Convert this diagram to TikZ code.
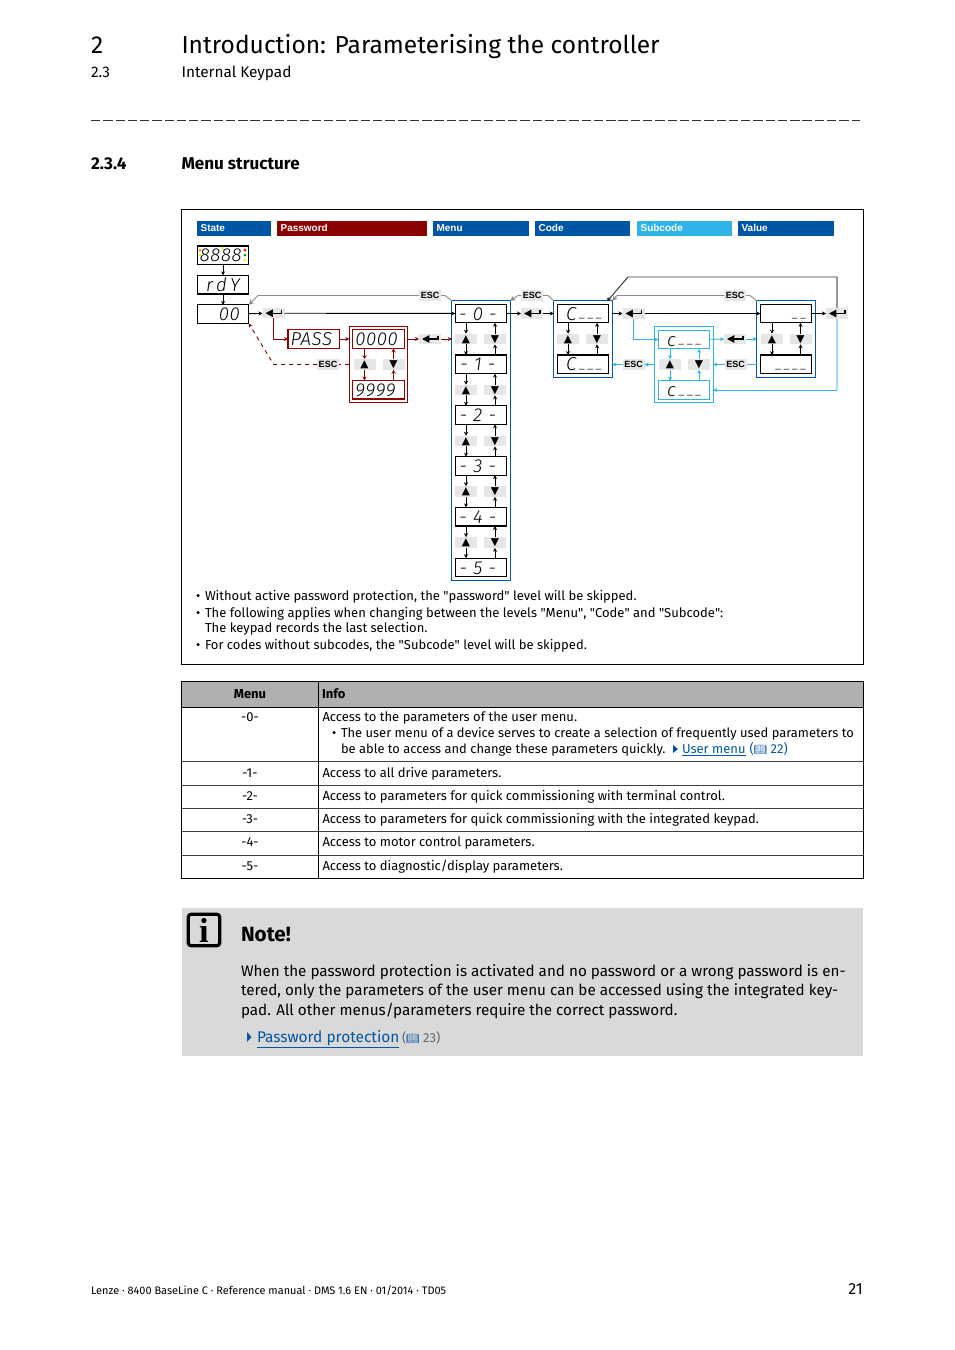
\documentclass[tikz,border=0pt]{standalone}
\usepackage{fontspec}
\usepackage{xcolor}
\setmainfont{Fira Sans}
\newfontfamily\barfont{Liberation Sans}
\newfontfamily\lcdfont{Fira Sans Light}[LetterSpace=3]
\newfontfamily\symfont{DejaVu Sans}
\newfontfamily\bookfont{Noto Emoji}
\newfontfamily\iconfont{Liberation Serif}
\usetikzlibrary{arrows.meta,positioning,fit,calc}
\definecolor{lenzeblue}{HTML}{0056A4}
\definecolor{lenzered}{HTML}{8B0000}
\definecolor{lenzecyan}{HTML}{30B4E8}
\definecolor{keygray}{HTML}{E6E6E6}
\definecolor{linkblue}{HTML}{0056A4}
\newcommand{\lcdseg}{\raisebox{1.8pt}{\fontsize{9}{9}\selectfont\_}\hspace{1.6pt}}

\begin{document}
\begin{tikzpicture}[x=0.75pt,y=-0.75pt,
  bar/.style={anchor=west, inner xsep=2.5pt, inner ysep=0pt, minimum height=11.25pt, text height=6pt, text depth=1pt, align=left, text=white, font=\barfont\fontsize{7.5}{9}\selectfont\bfseries},
  lcd/.style={draw=black, line width=0.9pt, fill=white, outer sep=0pt, inner xsep=2pt, inner ysep=0pt, minimum width=38.6pt, minimum height=13.9pt, text width=34.6pt, text height=10pt, text depth=0pt, font=\lcdfont\fontsize{14}{14}\selectfont\itshape},
  frame/.style={draw=#1, line width=0.8pt, inner sep=2.6pt, outer sep=0pt},
  key/.style={fill=keygray, outer sep=0pt, inner sep=0pt, minimum width=16.5pt, minimum height=7.9pt, text height=6.2pt, text depth=1pt, font=\symfont\fontsize{8}{8}\selectfont},
  enterkey/.style={fill=keygray, outer sep=0pt, inner sep=0pt, minimum width=16.5pt, minimum height=7.9pt, path picture={
    \draw[line width=1pt, -{Triangle[length=5.5pt,width=5.5pt]}] ($(path picture bounding box.center)+(8,-3.5)$) -- ($(path picture bounding box.center)+(8,0)$) -- ($(path picture bounding box.center)+(-8,0)$);}},
  esc/.style={fill=keygray, outer sep=0pt, inner sep=0pt, minimum width=16.5pt, minimum height=7.9pt, font=\barfont\fontsize{6.75}{8}\selectfont\bfseries},
  arrow/.style={-{Stealth[length=3pt,width=3pt]}, line width=0.7pt, color=black},
  redarrow/.style={-{Stealth[length=3pt,width=3pt]}, line width=0.7pt, color=lenzered},
  cyanarrow/.style={-{Stealth[length=3pt,width=3pt]}, line width=0.7pt, color=lenzecyan},
  escarrow/.style={-{Stealth[length=4pt,width=4pt]}, line width=0.7pt, color=black!45},
  page/.style={anchor=base west, inner sep=0pt, outer sep=0pt},
  txt/.style={page, font=\fontsize{9.75}{12}\selectfont},
  cell/.style={anchor=base, inner sep=0pt, font=\fontsize{9.75}{12}\selectfont},
]
\useasboundingbox (0,0) rectangle (954,1350);

% page head
\node[page, font=\fontsize{18.4}{24}\selectfont] (chap) at (91,53) {2};
\node[page, font=\fontsize{18.4}{24}\selectfont] (title) at (181.5,53) {Introduction: Parameterising the controller};
\node[page, font=\fontsize{11.5}{14}\selectfont] (sec) at (91,77) {2.3};
\node[page, font=\fontsize{11.5}{14}\selectfont] (subtitle) at (181.5,77) {Internal Keypad};
\draw[black!80, line width=0.7pt, dash pattern=on 7pt off 2.2pt] (91,120) -- (860,120);
\node[page, font=\fontsize{12.8}{15}\selectfont\bfseries] (subsec) at (91,169) {2.3.4};
\node[page, font=\fontsize{12.8}{15}\selectfont\bfseries] (subsectitle) at (181.5,169) {Menu structure};

\draw[black, line width=0.7pt] (181.5,209.5) rectangle (863.5,664.5);

% level bars
\node[bar, fill=lenzeblue, text width=50.5pt] (state) at (197,228.5) {State};
\node[bar, fill=lenzered, text width=107.5pt] (password) at (277,228.5) {Password};
\node[bar, fill=lenzeblue, text width=67pt] (menu) at (433,228.5) {Menu};
\node[bar, fill=lenzeblue, text width=66.25pt] (code) at (535,228.5) {Code};
\node[bar, fill=lenzecyan, text width=66.25pt] (subcode) at (637,228.5) {Subcode};
\node[bar, fill=lenzeblue, text width=67pt] (value) at (738,228.5) {Value};

% state column
\node[lcd, align=center] (test) at (223,255.2) {8888\,\,};
\node[lcd, align=right, below=8.2pt of test] (ready) {r\,d\,Y\,\,};
\node[lcd, align=right, below=8.2pt of ready] (zero) {00\,\,};
\fill[orange] (200,250) circle (1.5);
\fill[yellow] (200,255) circle (1.5);
\fill[yellow] (222.7,248) circle (1.5);
\fill[red] (245,250) circle (1.5);
\fill[green!60!black] (245,255) circle (1.5);
\fill[yellow] (245,260) circle (1.5);
\draw[arrow] (test) -- (ready);
\draw[arrow] (ready) -- (zero);

% password level
\node[enterkey] (enter1) at (273.5,313.2) {};
\node[lcd, align=left, draw=lenzered] (pass) at (313.7,339) {PASS};
\node[lcd, align=left, draw=lenzered] (pw0) at (378.5,339) {0000};
\node[lcd, align=left, draw=lenzered, below=24.2pt of pw0] (pw1) {9999};
\node[frame=lenzered, fit=(pw0)(pw1)] (pwframe) {};
\node[enterkey] (enter2) at (430,339) {};
\node[esc] (esc0) at (328,364.5) {ESC};
\coordinate (bend0) at (273.7,364.5);
\draw[arrow] (zero) -- (enter1);
\draw[redarrow] (enter1) |- (pass);
\draw[redarrow] (pass) -- (pwframe.west |- pass);
\draw[redarrow] (pwframe.east |- pw0) -- (enter2);
\draw[redarrow, dashed] (esc0.west) -- (bend0) -- (zero.south east);
\draw[lenzered, line width=0.7pt, dashed] (pwframe.west |- esc0) -- (esc0.east);

% menu level
\node[lcd, align=center] (m0) at (481,313.5) {- 0 -\,\,};
\node[lcd, align=center, below=24.2pt of m0] (m1) {- 1 -\,\,};
\node[lcd, align=center, below=24.2pt of m1] (m2) {- 2 -\,\,};
\node[lcd, align=center, below=24.2pt of m2] (m3) {- 3 -\,\,};
\node[lcd, align=center, below=24.2pt of m3] (m4) {- 4 -\,\,};
\node[lcd, align=center, below=24.2pt of m4] (m5) {- 5 -\,\,};
\node[frame=lenzeblue, fit=(m0)(m5)] (menuframe) {};
\node[esc] (esc1) at (430,295.5) {ESC};
\coordinate (bend1) at (258,295.5);
\coordinate (bend2) at (445,295.5);
\draw[arrow] (enter1) -- (m0);
\draw[redarrow] (enter2) -- (menuframe.west |- enter2);
\draw[escarrow] (esc1.west) -- (bend1) -- (zero.north east);
\draw[black!45, line width=0.7pt] (esc1.east) -- (bend2) -- (menuframe.north west);

% code level
\node[lcd, align=left] (c0) at (583,313.5) {\,\,C\,\lcdseg\lcdseg\lcdseg};
\node[lcd, align=left, below=24.2pt of c0] (c1) {\,\,C\,\lcdseg\lcdseg\lcdseg};
\node[frame=lenzeblue, fit=(c0)(c1)] (codeframe) {};
\node[enterkey] (enter3) at (532,313.5) {};
\node[esc] (esc2) at (532,295.5) {ESC};
\coordinate (bend3) at (518,295.5);
\coordinate (bend4) at (548,295.5);
\draw[arrow] (m0) -- (enter3);
\draw[arrow] (enter3) -- (codeframe.west |- enter3);
\draw[escarrow] (esc2.west) -- (bend3) -- (menuframe.north east);
\draw[black!45, line width=0.7pt] (esc2.east) -- (bend4) -- (codeframe.north west);

% subcode level
\node[lcd, align=left, draw=lenzecyan] (s0) at (684,339.5) {\,\,c\,\lcdseg\lcdseg\lcdseg};
\node[lcd, align=left, draw=lenzecyan, below=24pt of s0] (s1) {\,\,c\,\lcdseg\lcdseg\lcdseg};
\node[frame=lenzecyan, fit=(s0)(s1)] (subframe) {};
\node[enterkey] (enter4) at (633.5,313.5) {};
\node[enterkey] (enter6) at (735,339) {};
\node[esc] (esc4) at (633.5,364.5) {ESC};
\node[esc] (esc5) at (735.5,364.5) {ESC};
\draw[arrow] (codeframe.east |- enter4) -- (enter4);
\draw[cyanarrow] (enter4) |- (s0);
\draw[cyanarrow] (s0) -- (enter6);
\draw[cyanarrow] (subframe.west |- esc4) -- (esc4);
\draw[cyanarrow] (esc4) -- (codeframe.east |- esc4);

% value level
\node[lcd, align=right] (v0) at (786,313.5) {\lcdseg\lcdseg\hspace*{3pt}};
\node[lcd, align=right, below=24.2pt of v0] (v1) {\lcdseg\lcdseg\lcdseg\lcdseg\hspace*{3pt}};
\node[frame=lenzeblue, fit=(v0)(v1)] (valueframe) {};
\node[enterkey] (enter5) at (837,313.5) {};
\node[esc] (esc3) at (735,295.5) {ESC};
\coordinate (bend5) at (617,295.5);
\coordinate (bend6) at (750,295.5);
\coordinate (top1) at (837,277);
\coordinate (top2) at (628,277);
\coordinate (low1) at (837,390);
\draw[arrow] (enter4) -- (v0);
\draw[arrow] (v0) -- (enter5);
\draw[cyanarrow] (enter6) -- (valueframe.west |- enter6);
\draw[lenzecyan, line width=0.7pt] (valueframe.west |- esc5) -- (esc5);
\draw[cyanarrow] (esc5) -- (subframe.east |- esc5);
\draw[escarrow] (esc3.west) -- (bend5) -- (codeframe.north east);
\draw[black!45, line width=0.7pt] (esc3.east) -- (bend6) -- (valueframe.north west);
\draw[black!40, line width=1pt] (enter5) -- (top1);
\draw[-{Circle[length=3pt,width=3pt]}, line width=0.7pt, black!80] (top1) -- (top2) -- ([xshift=-3.5pt]codeframe.north east);
\draw[lenzecyan!45, line width=1pt] (enter5) -- (low1);
\draw[cyanarrow] (low1) -- (subframe.east |- low1);

% keys and their arrows
\foreach \upper/\lower/\xa/\xb/\ky/\col in {m0/m1/466/495/339/arrow, m1/m2/466/495/390/arrow, m2/m3/466/495/441/arrow, m3/m4/466/495/491.5/arrow, m4/m5/466/495/542.5/arrow, c0/c1/568/597/339/arrow, v0/v1/772/800.5/339/arrow, pw0/pw1/364.5/393.5/364.5/redarrow, s0/s1/670/699/364.5/cyanarrow} {
  \node[key] (up\upper) at (\xa,\ky) {▲};
  \node[key] (dn\upper) at (\xb,\ky) {▼};
  \draw[\col] (up\upper.north |- \upper.south) -- (up\upper.north);
  \draw[\col] (up\upper.south) -- (up\upper.south |- \lower.north);
  \draw[\col] (dn\upper.south |- \lower.north) -- (dn\upper.south);
  \draw[\col] (dn\upper.north) -- (dn\upper.north |- \upper.south);
}

% remarks
\node[txt] (b1) at (196,600) {•};
\node[txt] (r1) at (205,600) {Without active password protection, the \textquotedbl password\textquotedbl\ level will be skipped.};
\node[txt] (b2) at (196,617) {•};
\node[txt] (r2) at (205,617) {The following applies when changing between the levels \textquotedbl Menu\textquotedbl, \textquotedbl Code\textquotedbl\ and \textquotedbl Subcode\textquotedbl:};
\node[txt] (r3) at (205,632) {The keypad records the last selection.};
\node[txt] (b3) at (196,649) {•};
\node[txt] (r4) at (205,649) {For codes without subcodes, the \textquotedbl Subcode\textquotedbl\ level will be skipped.};

% table
\fill[black!31] (181.5,681) rectangle (863.5,707);
\draw[black, line width=0.7pt] (181.5,681) rectangle (863.5,878.5);
\draw[black, line width=0.7pt] (318.5,681) -- (318.5,878.5);
\draw[black, line width=0.7pt] (181.5,707) -- (863.5,707);
\draw[black!75, line width=0.6pt] (181.5,761.5) -- (863.5,761.5);
\draw[black!75, line width=0.6pt] (181.5,785) -- (863.5,785);
\draw[black!75, line width=0.6pt] (181.5,808.5) -- (863.5,808.5);
\draw[black!75, line width=0.6pt] (181.5,831.5) -- (863.5,831.5);
\draw[black!75, line width=0.6pt] (181.5,855) -- (863.5,855);
\node[cell, font=\fontsize{9.75}{12}\selectfont\bfseries] (thmenu) at (250,698) {Menu};
\node[txt, font=\fontsize{9.75}{12}\selectfont\bfseries] (thinfo) at (322,698) {Info};
\node[cell] (t0) at (250,721) {-0-};
\node[txt] (i0) at (322.5,721) {Access to the parameters of the user menu.};
\node[txt] (i0b) at (332,737) {•};
\node[txt, font=\fontsize{9.68}{12}\selectfont] (i0a) at (341,737) {The user menu of a device serves to create a selection of frequently used parameters to};
\node[txt, font=\fontsize{9.68}{12}\selectfont] (i0c) at (341,753) {be able to access and change these parameters quickly.};
\fill[lenzeblue] (673,745) -- (678,749) -- (673,753) -- cycle;
\node[txt, text=linkblue] (i0l) at (682,753) {\underline{User menu}};
\node[txt, text=linkblue] (i0p) at (749.5,753) {(\bookfont\fontsize{8}{8}\selectfont 📖\fontsize{9.75}{12}\selectfont\rmfamily\ 22)};
\node[cell] (t1) at (250,777) {-1-};
\node[txt] (i1) at (322.5,777) {Access to all drive parameters.};
\node[cell] (t2) at (250,800) {-2-};
\node[txt] (i2) at (322.5,800) {Access to parameters for quick commissioning with terminal control.};
\node[cell] (t3) at (250,823) {-3-};
\node[txt] (i3) at (322.5,823) {Access to parameters for quick commissioning with the integrated keypad.};
\node[cell] (t4) at (250,846) {-4-};
\node[txt] (i4) at (322.5,846) {Access to motor control parameters.};
\node[cell] (t5) at (250,870) {-5-};
\node[txt] (i5) at (322.5,870) {Access to diagnostic/display parameters.};

% note
\fill[black!15] (182,908) rectangle (863,1056);
\node[draw=black, line width=2.4pt, rounded corners=2pt, minimum size=23.5pt, inner sep=0pt, font=\iconfont\fontsize{26}{26}\selectfont\bfseries] (icon) at (204,930) {i};
\node[page, font=\fontsize{15.5}{18}\selectfont\bfseries] (notehead) at (241,941) {Note!};
\node[page, font=\fontsize{11.42}{14}\selectfont] (n1) at (241,976) {When the password protection is activated and no password or a wrong password is en-};
\node[page, font=\fontsize{11.42}{14}\selectfont] (n2) at (241,995.5) {tered, only the parameters of the user menu can be accessed using the integrated key-};
\node[page, font=\fontsize{11.42}{14}\selectfont] (n3) at (241,1015) {pad. All other menus/parameters require the correct password.};
\fill[lenzeblue] (247,1032) -- (251.5,1037) -- (247,1042) -- cycle;
\node[page, text=linkblue, font=\fontsize{11.6}{14}\selectfont] (n4) at (257,1042) {\underline{Password protection}};
\node[page, text=black!60, font=\fontsize{9.75}{12}\selectfont] (n5) at (402,1042) {(\textcolor{linkblue}{\bookfont\fontsize{8}{8}\selectfont 📖}\ 23)};

% page foot
\node[page, font=\fontsize{8.2}{10}\selectfont] (foot) at (91,1294) {Lenze · 8400 BaseLine C · Reference manual · DMS 1.6 EN · 01/2014 · TD05};
\node[anchor=base east, inner sep=0pt, font=\fontsize{12}{14}\selectfont] (pageno) at (863,1294) {21};
\end{tikzpicture}
\end{document}
